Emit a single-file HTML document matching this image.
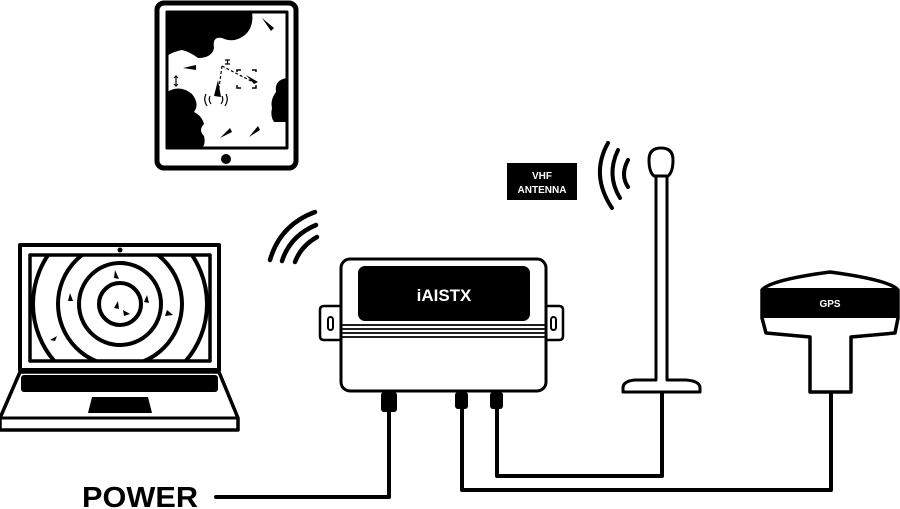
<!DOCTYPE html>
<html><head><meta charset="utf-8"><style>
html,body{margin:0;padding:0;background:#fff;}
svg{display:block;}
text{font-family:"Liberation Sans",Arial,sans-serif;font-weight:bold;}
</style></head><body>
<svg width="900" height="509" viewBox="0 0 900 509" xmlns="http://www.w3.org/2000/svg">
<g fill="none" stroke="#000" stroke-linecap="round" stroke-linejoin="round">
<!-- Tablet -->
<rect x="157" y="3" width="139" height="165" rx="7" stroke-width="5"/>
<rect x="167" y="12" width="120" height="136" stroke-width="3"/>
<!-- laptop -->
<rect x="20" y="245" width="199" height="125" stroke-width="4"/>
<rect x="30" y="255" width="180" height="106" stroke-width="3.5"/>
<path d="M20 372 L0 418 L0 430 L238 430 L238 418 L219 372 Z" stroke-width="3.5"/>
<line x1="0" y1="418" x2="238" y2="418" stroke-width="3"/>
<!-- waves near device -->
<path d="M270 260 Q280 225 315 212" stroke-width="4.5"/>
<path d="M282 261 Q290 236 316 225" stroke-width="4.5"/>
<path d="M295 262 Q301 246 317 237" stroke-width="4.5"/>
<!-- waves near antenna -->
<path d="M612 208 Q590 175 608 143" stroke-width="4"/>
<path d="M620 198 Q606 175 618 150" stroke-width="4"/>
<path d="M628 187 Q620 175 628 160" stroke-width="4"/>
<!-- device -->
<rect x="341" y="259" width="205" height="132" rx="9" stroke-width="3"/>
<path d="M341 306 H324 Q320 306 320 310 V336 Q320 340 324 340 H341" stroke-width="2.5"/>
<rect x="328" y="317" width="5" height="13" rx="2.5" stroke-width="2"/>
<path d="M546 306 H559 Q563 306 563 310 V336 Q563 340 559 340 H546" stroke-width="2.5"/>
<rect x="551" y="317" width="5" height="13" rx="2.5" stroke-width="2"/>
<g stroke-width="1.8">
<line x1="343" y1="325" x2="544" y2="325"/>
<line x1="343" y1="329" x2="544" y2="329"/>
<line x1="343" y1="333" x2="544" y2="333"/>
<line x1="343" y1="337" x2="544" y2="337"/>
</g>
<!-- cables -->
<path d="M389 410 V497 H216" stroke-width="4"/>
<path d="M462 405 V490 H831 V392" stroke-width="4"/>
<path d="M497 405 V476 H662 V392" stroke-width="4"/>
<!-- antenna -->
<path d="M656 176 V380 H635 Q623 381 623 388 V392 H700 V388 Q700 381 686 380 H667 V176" fill="#fff" stroke-width="3"/>
<path d="M654 176 Q649 172 649 160 Q649 148 661 148 Q673 148 673 160 Q673 172 668 176 Z" fill="#fff" stroke-width="3"/>
<!-- GPS -->
<path d="M762 290 Q770 280 830 272 Q890 280 898 290 L898 318 L895 333 L851 337 V392 H810 V337 L766 333 L762 318 Z" fill="#fff" stroke-width="3.5"/>
</g>
<!-- fills -->
<g fill="#000">
<!-- tablet content -->
<path d="M167 12 H252 Q254 26 246 34 Q235 44 222 38 Q212 36 214 48 Q212 58 198 58 Q190 52 182 50 Q172 52 167 56 Z"/>
<path d="M167 92 Q180 84 192 94 Q200 104 194 112 Q202 116 204 124 Q198 130 204 136 Q206 144 202 148 H167 Z"/>
<path d="M287 78 Q274 80 276 92 Q270 100 272 108 Q270 116 274 122 H287 Z"/>
<circle cx="226" cy="159" r="5"/>
<path d="M262 18 L274 28 L271 31 Z"/>
<path d="M183 68 L196 65 L196 70 Z"/>
<path d="M214 96 L218 80 L221 97 Z"/>
<path d="M246 75 L258 82 L254 84 Z"/>
<path d="M220 138 L230 128 L232 132 Z"/>
<path d="M249 137 L258 126 L260 130 Z"/>
<circle cx="120" cy="250" r="2.5"/>
<!-- laptop keyboard & pad -->
<rect x="21" y="375" width="197" height="17" rx="3"/>
<path d="M92 397 H148 L152 413 H88 Z"/>
<!-- device display -->
<rect x="358" y="266" width="172" height="55" rx="7"/>
<!-- connectors -->
<rect x="381" y="392" width="16" height="20" rx="3"/>
<rect x="455" y="392" width="13" height="17" rx="3"/>
<rect x="490" y="392" width="13" height="17" rx="3"/>
<!-- gps band -->
<rect x="762" y="288" width="136" height="30"/>
<!-- vhf label -->
<rect x="507" y="163" width="70" height="37"/>
</g>
<!-- tablet dashed lines -->
<g stroke="#000" fill="none" stroke-width="1.2">
<path d="M222 66 L218 95" stroke-dasharray="3 2"/>
<path d="M222 66 L253 82" stroke-dasharray="3 2"/>
<path d="M206 94 Q203 100 207 106 M210 96 Q208 100 211 104 M226 94 Q229 100 225 106 M222 96 Q224 100 221 104"/>
<path d="M237 72 V70 H241 M252 70 H256 V72 M237 85 V88 H241 M252 88 H256 V85" stroke-width="1.5"/>
<path d="M176 76 V86 M174 78 L176 76 L178 78 M174 84 L176 86 L178 84"/>
<path d="M225 60 H230 M225 64 H230 M227.5 60 V64"/>
</g>
<!-- laptop radar -->
<svg x="30" y="255" width="180" height="106" viewBox="30 255 180 106">
<g fill="none" stroke="#000" stroke-width="4">
<circle cx="120" cy="304" r="21"/>
<circle cx="120" cy="304" r="41"/>
<circle cx="120" cy="304" r="62"/>
<circle cx="120" cy="304" r="87"/>
</g>
<g fill="#000">
<path d="M115 270 L119 279 L114 278 Z"/>
<path d="M70 293 L73 301 L68 301 Z"/>
<path d="M147 295 L149 303 L144 302 Z"/>
<path d="M167 310 L173 315 L165 316 Z"/>
<path d="M50 340 L57 336 L55 341 Z"/>
<path d="M118 301 L119 309 L114 308 Z"/>
<path d="M123 310 L130 314 L124 316 Z"/>
</g>
</svg>
<!-- text -->
<text x="444" y="301" fill="#fff" font-size="17" text-anchor="middle">iAISTX</text>
<text x="542" y="179" fill="#fff" font-size="10" text-anchor="middle">VHF</text>
<text x="542" y="193" fill="#fff" font-size="10" text-anchor="middle">ANTENNA</text>
<text x="830" y="307" fill="#fff" font-size="10" text-anchor="middle">GPS</text>
<text x="82" y="507" fill="#000" font-size="29" textLength="116" lengthAdjust="spacingAndGlyphs">POWER</text>
</svg>
</body></html>
